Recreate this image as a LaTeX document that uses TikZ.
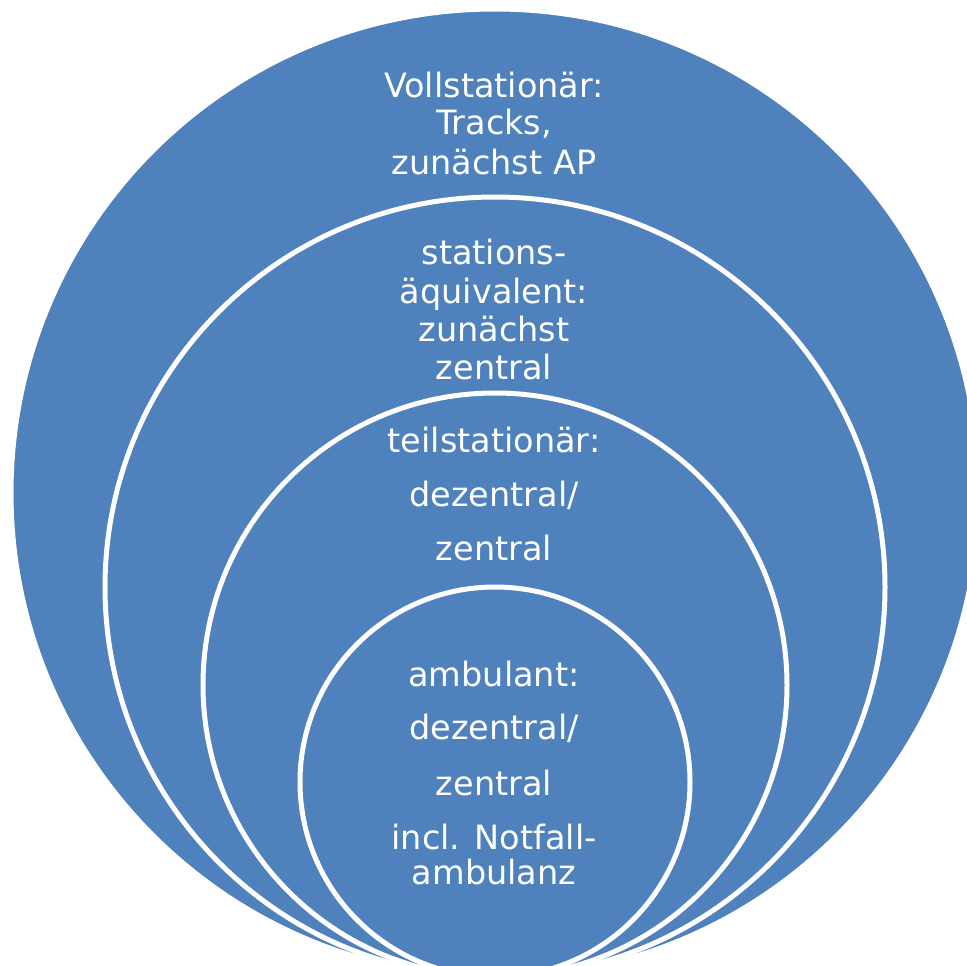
\documentclass[tikz,border=0pt]{standalone}
\usepackage{fontspec}
\setmainfont{DejaVu Sans}
\definecolor{vennblue}{HTML}{4F81BD}
\begin{document}
\begin{tikzpicture}[x=1pt,y=-1pt,
  ring/.style={circle, fill=vennblue, draw=white, line width=5pt, inner sep=0pt, outer sep=0pt},
  lbl/.style={text=white, anchor=base, inner sep=0pt, font=\fontsize{33.5}{40}\selectfont}]
\clip (0,0) rectangle (967,966);
\node[ring, minimum size=968pt] (c1) at (495,493) {};
\node[ring, minimum size=780pt] (c2) at (495,587) {};
\node[ring, minimum size=584pt] (c3) at (495,685) {};
\node[ring, minimum size=390pt] (c4) at (495,782) {};
% outer
\node[lbl] (t1a) at (494,97) {Vollstationär:};
\node[lbl] (t1b) at (494,135) {Tracks,};
\node[lbl] (t1c) at (494,174) {zunächst AP};
% second
\node[lbl] (t2a) at (494,264) {stations-};
\node[lbl] (t2b) at (494,303) {äquivalent:};
\node[lbl] (t2c) at (494,341) {zunächst};
\node[lbl] (t2d) at (494,379) {zentral};
% third
\node[lbl] (t3a) at (494,452) {teilstationär:};
\node[lbl] (t3b) at (494,506) {dezentral/};
\node[lbl] (t3c) at (494,560) {zentral};
% inner
\node[lbl] (t4a) at (494,686) {ambulant:};
\node[lbl] (t4b) at (494,739) {dezentral/};
\node[lbl] (t4c) at (494,795) {zentral};
\node[lbl] (t4d) at (494,849) {incl. Notfall-};
\node[lbl] (t4e) at (494,884) {ambulanz};
\end{tikzpicture}
\end{document}
